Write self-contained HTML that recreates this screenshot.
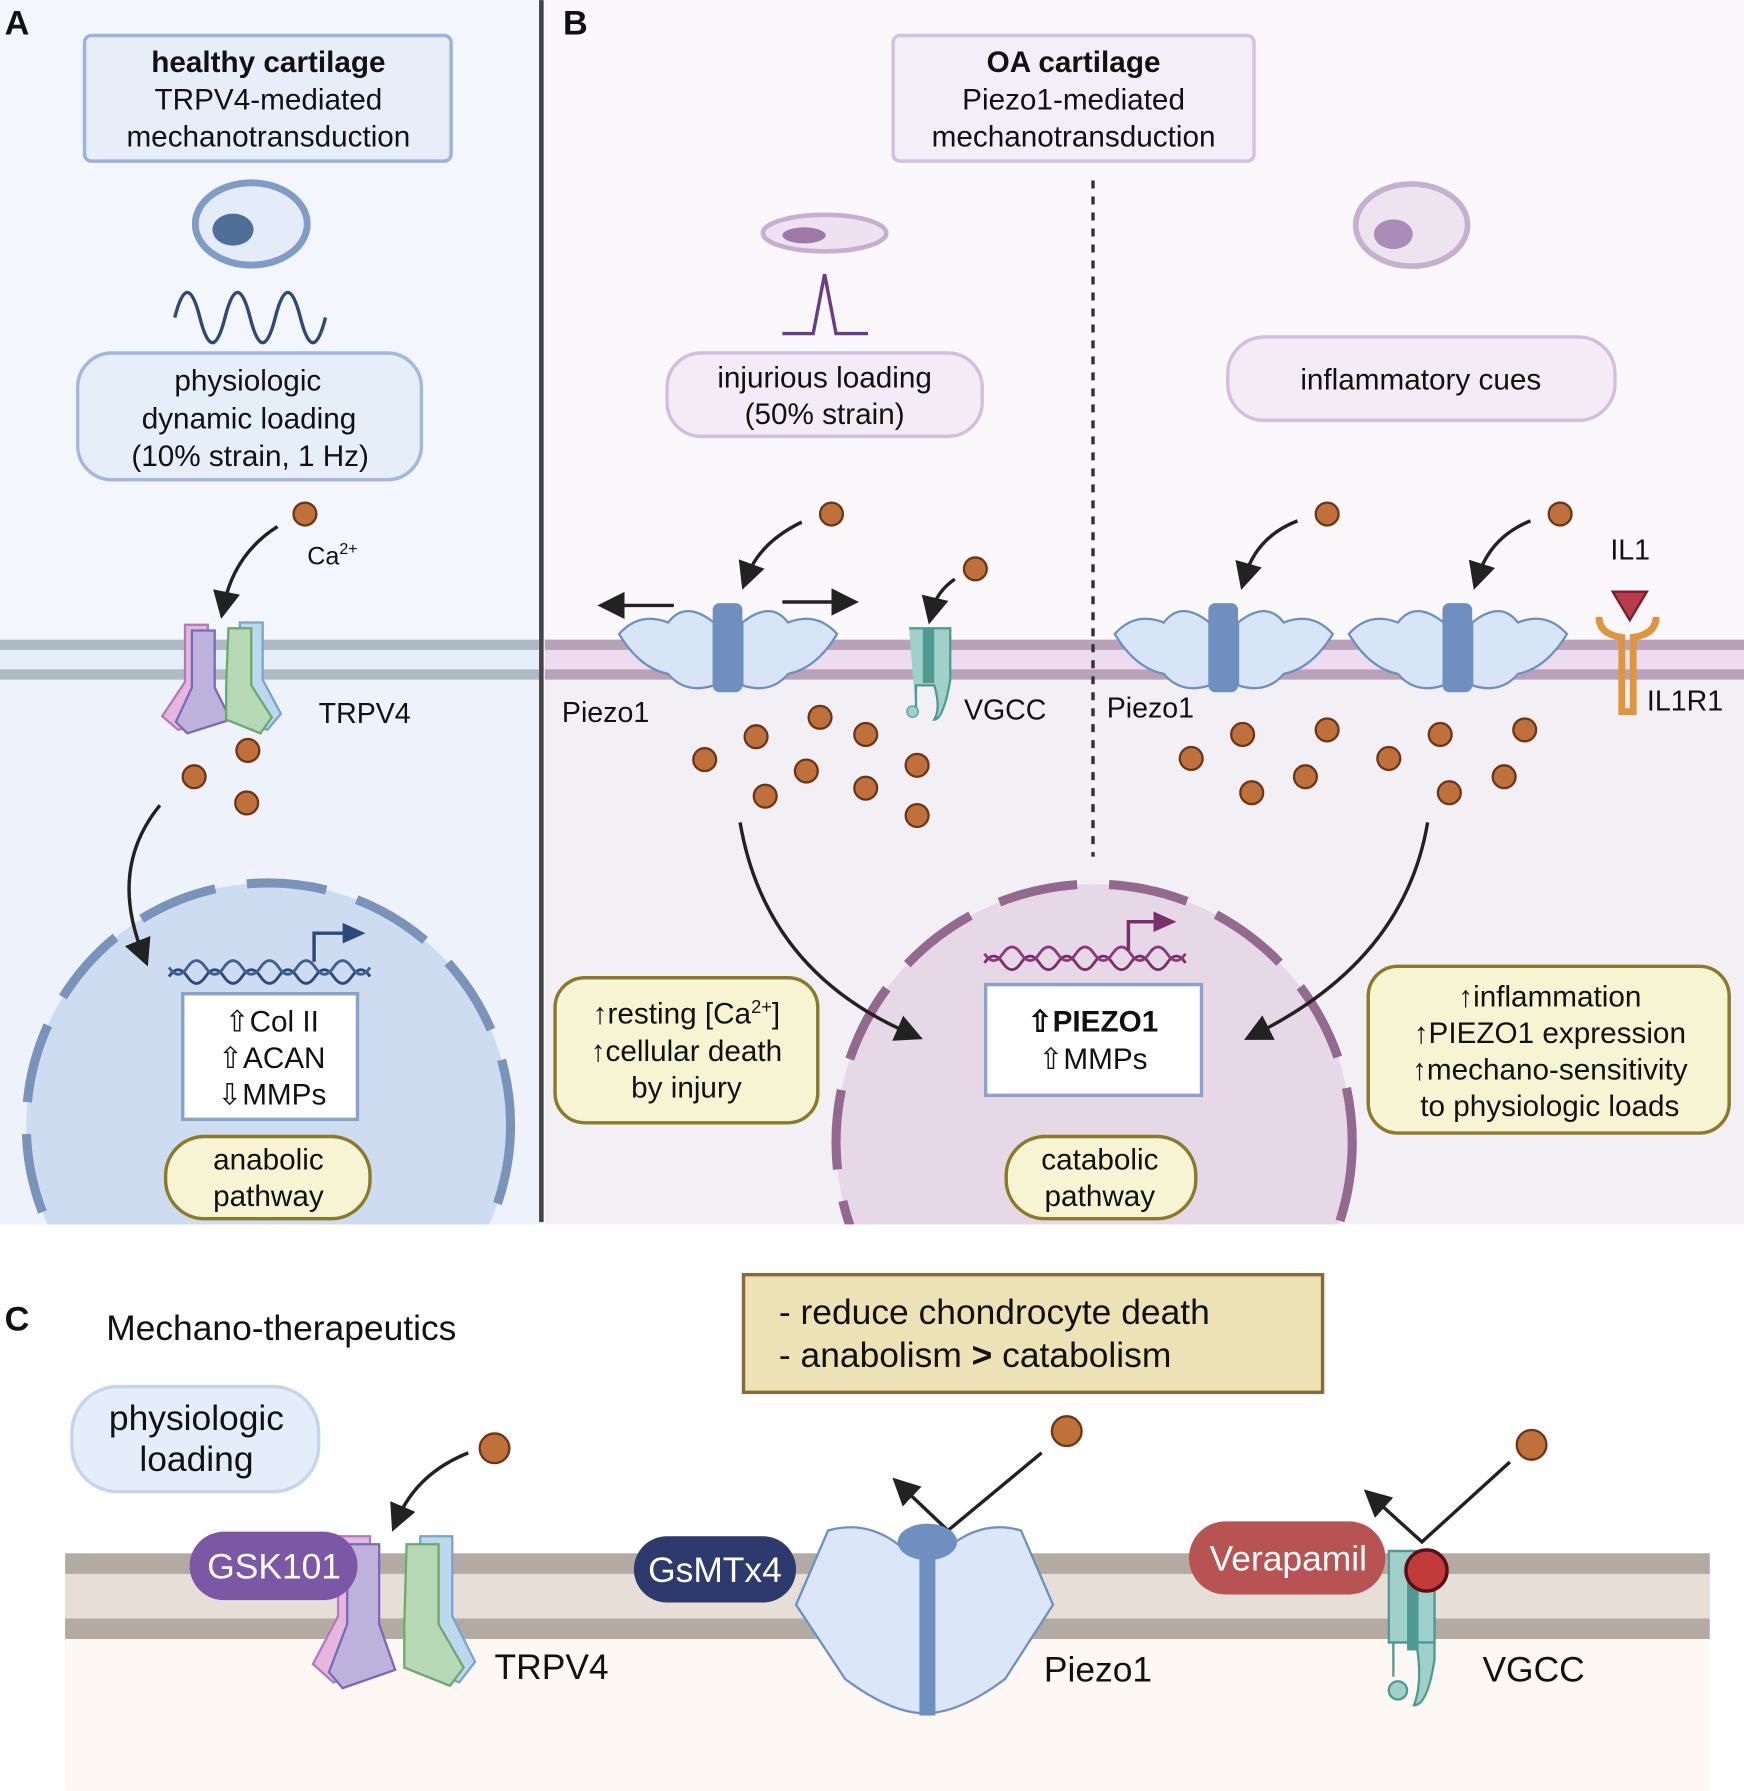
<!DOCTYPE html>
<html><head><meta charset="utf-8"><style>
html,body{margin:0;padding:0;background:#fff}
svg{display:block}
text{font-family:"Liberation Sans",sans-serif;fill:#111}
</style></head><body>
<svg width="1744" height="1791" viewBox="0 0 1527 1568" xmlns="http://www.w3.org/2000/svg">
<defs>
<marker id="ah" markerWidth="8" markerHeight="8" refX="4" refY="4" orient="auto" markerUnits="strokeWidth"><path d="M0,0 L8,4 L0,8 z" fill="#222"/></marker>
<clipPath id="cA"><rect x="0" y="0" width="472" height="1072"/></clipPath>
<clipPath id="cB"><rect x="477" y="0" width="1050" height="1072"/></clipPath>
</defs>
<!-- Panel backgrounds -->
<rect x="0" y="0" width="472" height="560" fill="#f3f6fc"/>
<rect x="0" y="595" width="472" height="477" fill="#eef3fb"/>
<rect x="477" y="0" width="1050" height="560" fill="#faf8fb"/>
<rect x="477" y="595" width="1050" height="477" fill="#f3f0f5"/>
<!-- membranes A/B -->
<rect x="0" y="560" width="472" height="35" fill="#e4effa"/>
<rect x="0" y="560" width="472" height="9" fill="#aebac4"/>
<rect x="0" y="586" width="472" height="9" fill="#aebac4"/>
<rect x="477" y="560" width="1050" height="35" fill="#eddbf0"/>
<rect x="477" y="560" width="1050" height="9" fill="#b9a2b9"/>
<rect x="477" y="586" width="1050" height="9" fill="#b9a2b9"/>
<line x1="474" y1="0" x2="474" y2="1070" stroke="#444" stroke-width="4"/>
<line x1="957" y1="158" x2="957" y2="750" stroke="#333" stroke-width="3" stroke-dasharray="7,7"/>

<!-- Nuclei -->
<g clip-path="url(#cA)"><circle cx="235" cy="985" r="212" fill="#cddcf0" stroke="#7a93bb" stroke-width="8" stroke-dasharray="70,28"/></g>
<g clip-path="url(#cB)"><circle cx="958" cy="1000" r="226" fill="#e6d8e7" stroke="#93698f" stroke-width="8" stroke-dasharray="70,28"/></g>

<text x="4" y="30" font-size="30" font-weight="bold">A</text>
<text x="493" y="30" font-size="30" font-weight="bold">B</text>
<text x="4" y="1165" font-size="30" font-weight="bold">C</text>

<!-- title boxes -->
<rect x="74" y="31" width="321" height="110" rx="6" fill="#e8eef9" stroke="#9fb2d8" stroke-width="3"/>
<text x="235" y="63" font-size="26" font-weight="bold" text-anchor="middle">healthy cartilage</text>
<text x="235" y="96" font-size="26" text-anchor="middle">TRPV4-mediated</text>
<text x="235" y="128" font-size="26" text-anchor="middle">mechanotransduction</text>
<rect x="782" y="31" width="316" height="110" rx="6" fill="#f4eef8" stroke="#d4c0e4" stroke-width="3"/>
<text x="940" y="63" font-size="26" font-weight="bold" text-anchor="middle">OA cartilage</text>
<text x="940" y="96" font-size="26" text-anchor="middle">Piezo1-mediated</text>
<text x="940" y="128" font-size="26" text-anchor="middle">mechanotransduction</text>

<!-- cells -->
<ellipse cx="220" cy="196" rx="49" ry="36" fill="#e3ecf8" stroke="#7f9bc7" stroke-width="6"/>
<ellipse cx="204" cy="201" rx="18" ry="14" fill="#4f6f98"/>
<path d="M153,278 q11,-44 22,0 q11,44 22,0 q11,-44 22,0 q11,44 22,0 q11,-44 22,0 q11,44 22,0" fill="none" stroke="#2f4a75" stroke-width="3"/>
<ellipse cx="722" cy="204" rx="54" ry="16" fill="#eee2f0" stroke="#c8aed2" stroke-width="4"/>
<ellipse cx="704" cy="206" rx="19" ry="7" fill="#9d78a8"/>
<path d="M685,292 h27 l10,-52 l10,52 h28" fill="none" stroke="#6a3d8a" stroke-width="3"/>
<ellipse cx="1236" cy="197" rx="49" ry="36" fill="#eee4f0" stroke="#c6b0cf" stroke-width="5"/>
<ellipse cx="1220" cy="205" rx="17" ry="13" fill="#ab8cb8"/>

<!-- stimulus boxes -->
<rect x="68" y="309" width="301" height="111" rx="30" fill="#e6eef9" stroke="#a3b8dc" stroke-width="3"/>
<text x="217" y="342" font-size="26" text-anchor="middle">physiologic</text>
<text x="218" y="375" font-size="26" text-anchor="middle">dynamic loading</text>
<text x="219" y="408" font-size="26" text-anchor="middle">(10% strain, 1 Hz)</text>
<rect x="584" y="309" width="276" height="73" rx="30" fill="#f3ebf6" stroke="#d4bee0" stroke-width="3"/>
<text x="722" y="339" font-size="26" text-anchor="middle">injurious loading</text>
<text x="722" y="371" font-size="26" text-anchor="middle">(50% strain)</text>
<rect x="1075" y="295" width="339" height="73" rx="32" fill="#f3ebf6" stroke="#d4bee0" stroke-width="3"/>
<text x="1244" y="341" font-size="26" text-anchor="middle">inflammatory cues</text>

<!-- Ca dots -->
<g fill="#c0703a" stroke="#6b3518" stroke-width="2">
<circle cx="267" cy="450" r="10"/><circle cx="217" cy="657" r="10"/><circle cx="170" cy="680" r="10"/><circle cx="216" cy="703" r="10"/>
<circle cx="728" cy="450" r="10"/><circle cx="854" cy="498" r="10"/>
<circle cx="617" cy="665" r="10"/><circle cx="662" cy="645" r="10"/><circle cx="718" cy="628" r="10"/><circle cx="758" cy="643" r="10"/><circle cx="706" cy="675" r="10"/><circle cx="670" cy="697" r="10"/><circle cx="758" cy="690" r="10"/><circle cx="803" cy="670" r="10"/><circle cx="803" cy="714" r="10"/>
<circle cx="1162" cy="450" r="10"/><circle cx="1366" cy="450" r="10"/>
<circle cx="1043" cy="664" r="10"/><circle cx="1088" cy="643" r="10"/><circle cx="1162" cy="639" r="10"/><circle cx="1143" cy="680" r="10"/><circle cx="1096" cy="694" r="10"/><circle cx="1216" cy="664" r="10"/><circle cx="1261" cy="643" r="10"/><circle cx="1335" cy="639" r="10"/><circle cx="1317" cy="680" r="10"/><circle cx="1269" cy="694" r="10"/>
<circle cx="433" cy="1268" r="13"/><circle cx="934" cy="1253" r="13"/><circle cx="1341" cy="1265" r="13"/>
<circle cx="376" cy="1496" r="13"/><circle cx="313" cy="1526" r="13"/><circle cx="375" cy="1552" r="13"/>
</g>
<text x="269" y="494" font-size="22">Ca<tspan font-size="14" dy="-9">2+</tspan></text>

<!-- arrows -->
<g fill="none" stroke="#222" stroke-width="3" marker-end="url(#ah)">
<path d="M243,461 Q205,485 196,530"/>
<path d="M702,457 Q665,475 654,505"/>
<path d="M836,507 Q820,518 816,535"/>
<path d="M1136,456 Q1100,470 1090,505"/>
<path d="M1340,456 Q1305,470 1294,505"/>
<path d="M140,705 Q95,760 125,835"/>
<path d="M648,720 Q670,850 797,905"/>
<path d="M1250,720 Q1230,840 1100,905"/>
<path d="M590,530 L535,530"/><path d="M685,527 L740,527"/>
<path d="M410,1272 Q365,1290 348,1330"/>
<path d="M912,1272 L830,1340 L790,1302"/>
<path d="M1322,1280 L1245,1350 L1203,1312"/>
</g>

<!-- TRPV4 A -->
<g stroke-width="2">
<path d="M162,547 h20 v50 l14,30 l-40,12 l-14,-12 l20,-30z" fill="#e6b6e0" stroke="#b07cb8"/>
<path d="M168,552 h20 v50 l14,28 l-38,12 l-10,-10 l14,-30z" fill="#bdb2dc" stroke="#7a68b8"/>
<path d="M210,545 h20 v50 l16,30 l-12,14 l-34,-14 l10,-30z" fill="#bcd8ee" stroke="#7ba3cc"/>
<path d="M200,550 h20 v50 l18,28 l-10,14 l-30,-12 v-30z" fill="#b6d8b4" stroke="#6fa86c"/>
</g>
<text x="279" y="633" font-size="25">TRPV4</text>

<!-- Piezo1 shapes -->
<g id="pz">
<path d="M542,555 Q560,535 585,545 Q600,525 625,545 L625,600 Q600,608 585,590 Q560,585 542,555z" fill="#d8e5f6" stroke="#6f8fbf" stroke-width="2"/>
<path d="M733,555 Q715,535 690,545 Q675,525 650,545 L650,600 Q675,608 690,590 Q715,585 733,555z" fill="#d8e5f6" stroke="#6f8fbf" stroke-width="2"/>
<rect x="624" y="528" width="26" height="78" rx="6" fill="#6e8fbf"/>
</g>
<use href="#pz" x="434"/>
<use href="#pz" x="639"/>
<!-- VGCC B -->
<path d="M796,550 h36 v45 q-6,35 -14,35 q6,-10 0,-30 h-16 v25" fill="#9fd0ca" stroke="#4f9992" stroke-width="2"/>
<rect x="808" y="550" width="10" height="48" fill="#4f9992"/>
<circle cx="799" cy="623" r="5" fill="#9fd0ca" stroke="#4f9992"/>
<text x="492" y="632" font-size="25">Piezo1</text>
<text x="844" y="630" font-size="25">VGCC</text>
<text x="969" y="628" font-size="25">Piezo1</text>
<!-- IL1 -->
<path d="M1412,518 h30 l-15,25z" fill="#b83c4a" stroke="#7a1e28" stroke-width="2"/>
<path d="M1400,540 q0,15 20,18 v65 h10 v-65 q20,-3 20,-18" fill="none" stroke="#e0943e" stroke-width="6"/>
<text x="1410" y="490" font-size="25">IL1</text>
<text x="1442" y="622" font-size="25">IL1R1</text>

<!-- DNA -->
<g fill="none" stroke-width="2.5">
<path d="M148,855 q8,-12 16,0 t16,0 t16,0 t16,0 t16,0 t16,0 t16,0 t16,0 t16,0 t16,0 t16,0" stroke="#2b4a7a"/>
<path d="M148,847 q8,12 16,0 t16,0 t16,0 t16,0 t16,0 t16,0 t16,0 t16,0 t16,0 t16,0 t16,0" stroke="#3f5f90"/>
<path d="M862,843 q8,-12 16,0 t16,0 t16,0 t16,0 t16,0 t16,0 t16,0 t16,0 t16,0 t16,0 t16,0" stroke="#7a2e6a"/>
<path d="M862,835 q8,12 16,0 t16,0 t16,0 t16,0 t16,0 t16,0 t16,0 t16,0 t16,0 t16,0 t16,0" stroke="#8a3a7a"/>
</g>
<path d="M275,842 v-25 h30" fill="none" stroke="#2b4a7a" stroke-width="3"/><path d="M300,808 l20,9 l-20,9z" fill="#2b4a7a"/>
<path d="M988,832 v-25 h24" fill="none" stroke="#7a2e6a" stroke-width="3"/><path d="M1010,798 l20,9 l-20,9z" fill="#7a2e6a"/>

<!-- gene boxes -->
<rect x="160" y="870" width="153" height="110" fill="#fff" stroke="#8aa2cc" stroke-width="3"/>
<text x="238" y="903" font-size="26" text-anchor="middle">⇧Col II</text>
<text x="238" y="935" font-size="26" text-anchor="middle">⇧ACAN</text>
<text x="238" y="967" font-size="26" text-anchor="middle">⇩MMPs</text>
<rect x="863" y="862" width="189" height="97" fill="#fff" stroke="#8aa2cc" stroke-width="3"/>
<text x="957" y="903" font-size="26" font-weight="bold" text-anchor="middle">⇧PIEZO1</text>
<text x="957" y="936" font-size="26" text-anchor="middle">⇧MMPs</text>

<!-- yellow boxes -->
<g fill="#f7f4d3" stroke="#8a7a2a" stroke-width="3">
<rect x="145" y="995" width="179" height="72" rx="34"/>
<rect x="881" y="995" width="166" height="72" rx="34"/>
<rect x="486" y="856" width="230" height="127" rx="26"/>
<rect x="1198" y="846" width="316" height="146" rx="26"/>
</g>
<text x="235" y="1024" font-size="26" text-anchor="middle">anabolic</text>
<text x="235" y="1056" font-size="26" text-anchor="middle">pathway</text>
<text x="963" y="1024" font-size="26" text-anchor="middle">catabolic</text>
<text x="963" y="1056" font-size="26" text-anchor="middle">pathway</text>
<text x="601" y="896" font-size="26" text-anchor="middle">↑resting [Ca<tspan font-size="16" dy="-9">2+</tspan><tspan dy="9">]</tspan></text>
<text x="601" y="929" font-size="26" text-anchor="middle">↑cellular death</text>
<text x="601" y="961" font-size="26" text-anchor="middle">by injury</text>
<text x="1357" y="881" font-size="26" text-anchor="middle">↑inflammation</text>
<text x="1357" y="913" font-size="26" text-anchor="middle">↑PIEZO1 expression</text>
<text x="1357" y="945" font-size="26" text-anchor="middle">↑mechano-sensitivity</text>
<text x="1357" y="977" font-size="26" text-anchor="middle">to physiologic loads</text>

<!-- Panel C -->
<text x="93" y="1173" font-size="31">Mechano-therapeutics</text>
<rect x="651" y="1116" width="507" height="103" fill="#ede1b6" stroke="#8a6a3a" stroke-width="3"/>
<text x="682" y="1159" font-size="31">- reduce chondrocyte death</text>
<text x="682" y="1197" font-size="31">- anabolism <tspan font-weight="bold">&gt;</tspan> catabolism</text>
<rect x="63" y="1214" width="216" height="92" rx="40" fill="#e4eefa" stroke="#c4d6ec" stroke-width="3"/>
<text x="172" y="1252" font-size="31" text-anchor="middle">physiologic</text>
<text x="172" y="1288" font-size="31" text-anchor="middle">loading</text>

<rect x="57" y="1435" width="1440" height="133" fill="#fdf8f4"/>
<rect x="57" y="1360" width="1440" height="75" fill="#e8ded8"/>
<rect x="57" y="1360" width="1440" height="18" fill="#b3aaa3"/>
<rect x="57" y="1417" width="1440" height="18" fill="#b3aaa3"/>

<!-- TRPV4 C -->
<g stroke-width="2">
<path d="M296,1345 h28 v70 l16,40 l-48,18 l-18,-16 l22,-42z" fill="#e6b6e0" stroke="#b07cb8"/>
<path d="M304,1352 h28 v70 l14,40 l-46,16 l-12,-14 l16,-42z" fill="#bdb2dc" stroke="#7a68b8"/>
<path d="M368,1345 h28 v70 l20,40 l-14,18 l-44,-18 l10,-40z" fill="#bcd8ee" stroke="#7ba3cc"/>
<path d="M356,1352 h28 v70 l22,38 l-12,16 l-40,-16 v-38z" fill="#b6d8b4" stroke="#6fa86c"/>
</g>
<text x="433" y="1470" font-size="31">TRPV4</text>
<rect x="166" y="1341" width="147" height="60" rx="30" fill="#7b57a6"/>
<text x="240" y="1382" font-size="31" fill="#fff" text-anchor="middle" style="fill:#fff">GSK101</text>

<!-- Piezo1 C -->
<path d="M697,1405 L725,1340 Q760,1330 790,1355 L810,1360 L810,1500 Q780,1500 740,1470z" fill="#dbe7f8" stroke="#6f8fbf" stroke-width="2"/>
<path d="M922,1405 L894,1340 Q860,1330 830,1355 L810,1360 L810,1500 Q840,1500 880,1470z" fill="#dbe7f8" stroke="#6f8fbf" stroke-width="2"/>
<ellipse cx="812" cy="1350" rx="26" ry="16" fill="#6e8fbf"/>
<rect x="805" y="1350" width="14" height="152" fill="#6e8fbf"/>
<text x="914" y="1472" font-size="31">Piezo1</text>
<rect x="555" y="1345" width="142" height="58" rx="29" fill="#2e3a6e"/>
<text x="626" y="1385" font-size="31" text-anchor="middle" style="fill:#fff">GsMTx4</text>

<!-- VGCC C -->
<path d="M1216,1358 h40 v95 q-6,40 -18,40 q8,-20 2,-55 h-20 v30" fill="#9fd0ca" stroke="#4f9992" stroke-width="2"/>
<path d="M1216,1358 h40 v80 h-40z" fill="#9fd0ca" stroke="#4f9992" stroke-width="2"/>
<rect x="1232" y="1375" width="10" height="70" fill="#4f9992"/>
<circle cx="1224" cy="1480" r="8" fill="#9fd0ca" stroke="#4f9992" stroke-width="2"/>
<circle cx="1249" cy="1375" r="18" fill="#c23b3b" stroke="#5a1010" stroke-width="3"/>
<text x="1298" y="1472" font-size="31">VGCC</text>
<rect x="1041" y="1332" width="172" height="64" rx="32" fill="#b85353"/>
<text x="1128" y="1375" font-size="31" text-anchor="middle" style="fill:#fff">Verapamil</text>
</svg>
</body></html>
